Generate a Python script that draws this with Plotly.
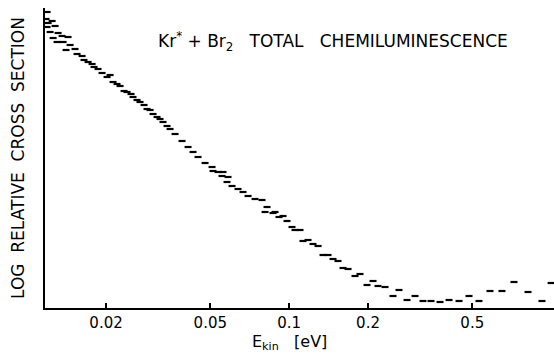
import plotly.graph_objects as go

# Kinetic energy (eV) and log relative cross section
energy_ev = [
    0.01191, 0.01180, 0.01202, 0.01245, 0.01191, 0.01278, 0.01223, 0.01312,
    0.01256, 0.01359, 0.01432, 0.01300, 0.01371, 0.01458, 0.01407, 0.01523,
    0.01550, 0.01620, 0.01648, 0.01708, 0.01769, 0.01800, 0.01864, 0.01931,
    0.02018, 0.02072, 0.02127, 0.02203, 0.02262, 0.02343, 0.02405, 0.02491,
    0.02535, 0.02626, 0.02696, 0.02793, 0.02867, 0.02944, 0.03023, 0.03131,
    0.03214, 0.03300, 0.03418, 0.03510, 0.03668, 0.03900, 0.04112, 0.04297,
    0.04489, 0.04775, 0.05077, 0.05122, 0.05352, 0.05593, 0.05543, 0.05843,
    0.05792, 0.06052, 0.06380, 0.06667, 0.06967, 0.07410, 0.07879, 0.08233,
    0.08090, 0.08678, 0.08831, 0.09148, 0.09476, 0.09814, 0.10254, 0.10529,
    0.11002, 0.11295, 0.11803, 0.12334, 0.12889, 0.13467, 0.14072, 0.14705,
    0.15366, 0.16057, 0.16779, 0.17840, 0.18642, 0.19826, 0.20898, 0.21838,
    0.23222, 0.24910, 0.26260, 0.28184, 0.30234, 0.32430, 0.34796, 0.37658,
    0.40766, 0.44506, 0.48592, 0.53054, 0.58430, 0.64934, 0.72156, 0.81616,
    0.92300, 1.0000,
]
log_cross_section = [
    2.96, 2.89, 2.85, 2.87, 2.81, 2.82, 2.76, 2.75,
    2.70, 2.72, 2.71, 2.66, 2.66, 2.63, 2.58, 2.59,
    2.54, 2.52, 2.48, 2.46, 2.44, 2.41, 2.39, 2.35,
    2.31, 2.33, 2.26, 2.24, 2.22, 2.17, 2.16, 2.14,
    2.11, 2.08, 2.06, 2.03, 1.99, 1.98, 1.94, 1.91,
    1.89, 1.86, 1.82, 1.79, 1.74, 1.67, 1.61, 1.56,
    1.51, 1.45, 1.41, 1.37, 1.36, 1.36, 1.32, 1.31,
    1.26, 1.22, 1.19, 1.16, 1.12, 1.09, 1.08, 1.01,
    0.96, 0.95, 0.96, 0.91, 0.92, 0.87, 0.81, 0.78,
    0.78, 0.67, 0.68, 0.64, 0.62, 0.53, 0.53, 0.49,
    0.47, 0.40, 0.39, 0.32, 0.34, 0.23, 0.27, 0.22,
    0.21, 0.12, 0.18, 0.08, 0.12, 0.07, 0.07, 0.06,
    0.08, 0.07, 0.12, 0.07, 0.17, 0.17, 0.26, 0.16,
    0.07, 0.25,
]

tick_values = [0.02, 0.05, 0.1, 0.2, 0.5]
tick_labels = ["0.02", "0.05", "0.1", "0.2", "0.5"]

FONT = "DejaVu Sans"

fig = go.Figure()
fig.add_trace(go.Scatter(
    x=energy_ev, y=log_cross_section, mode="markers",
    marker=dict(symbol="line-ew", size=5, color="black",
                line=dict(color="black", width=2.2)),
    showlegend=False, hoverinfo="skip",
))

fig.update_layout(
    width=554, height=354,
    margin=dict(l=45, r=0, t=8, b=46),
    paper_bgcolor="white", plot_bgcolor="white",
    font=dict(family=FONT, color="black"),
    xaxis=dict(
        type="log", range=[-1.932, 0.011],
        tickvals=tick_values, ticktext=tick_labels,
        ticks="inside", ticklen=5, tickwidth=1.5, tickcolor="black",
        tickfont=dict(size=15, family=FONT),
        showgrid=False, zeroline=False,
        showline=True, linecolor="black", linewidth=1.5,
    ),
    yaxis=dict(
        range=[0, 3.00], showticklabels=False, ticks="",
        showgrid=False, zeroline=False,
        showline=True, linecolor="black", linewidth=1.5,
        title=dict(text="LOG  RELATIVE  CROSS  SECTION",
                   font=dict(size=17, family=FONT), standoff=14),
    ),
    annotations=[
        dict(
            text="Kr<sup>*</sup> + Br<sub>2</sub>   TOTAL   CHEMILUMINESCENCE",
            xref="paper", yref="paper", x=0.566, y=0.887,
            xanchor="center", yanchor="middle", showarrow=False,
            font=dict(size=17, family=FONT, color="black"),
        ),
        dict(
            text="E<sub>kin</sub>   [eV]",
            xref="paper", yref="paper", x=0.481, y=-0.1533,
            xanchor="center", yanchor="bottom", showarrow=False,
            borderpad=0,
            font=dict(size=16, family=FONT, color="black"),
        ),
    ],
)

fig.write_html("out.html")
